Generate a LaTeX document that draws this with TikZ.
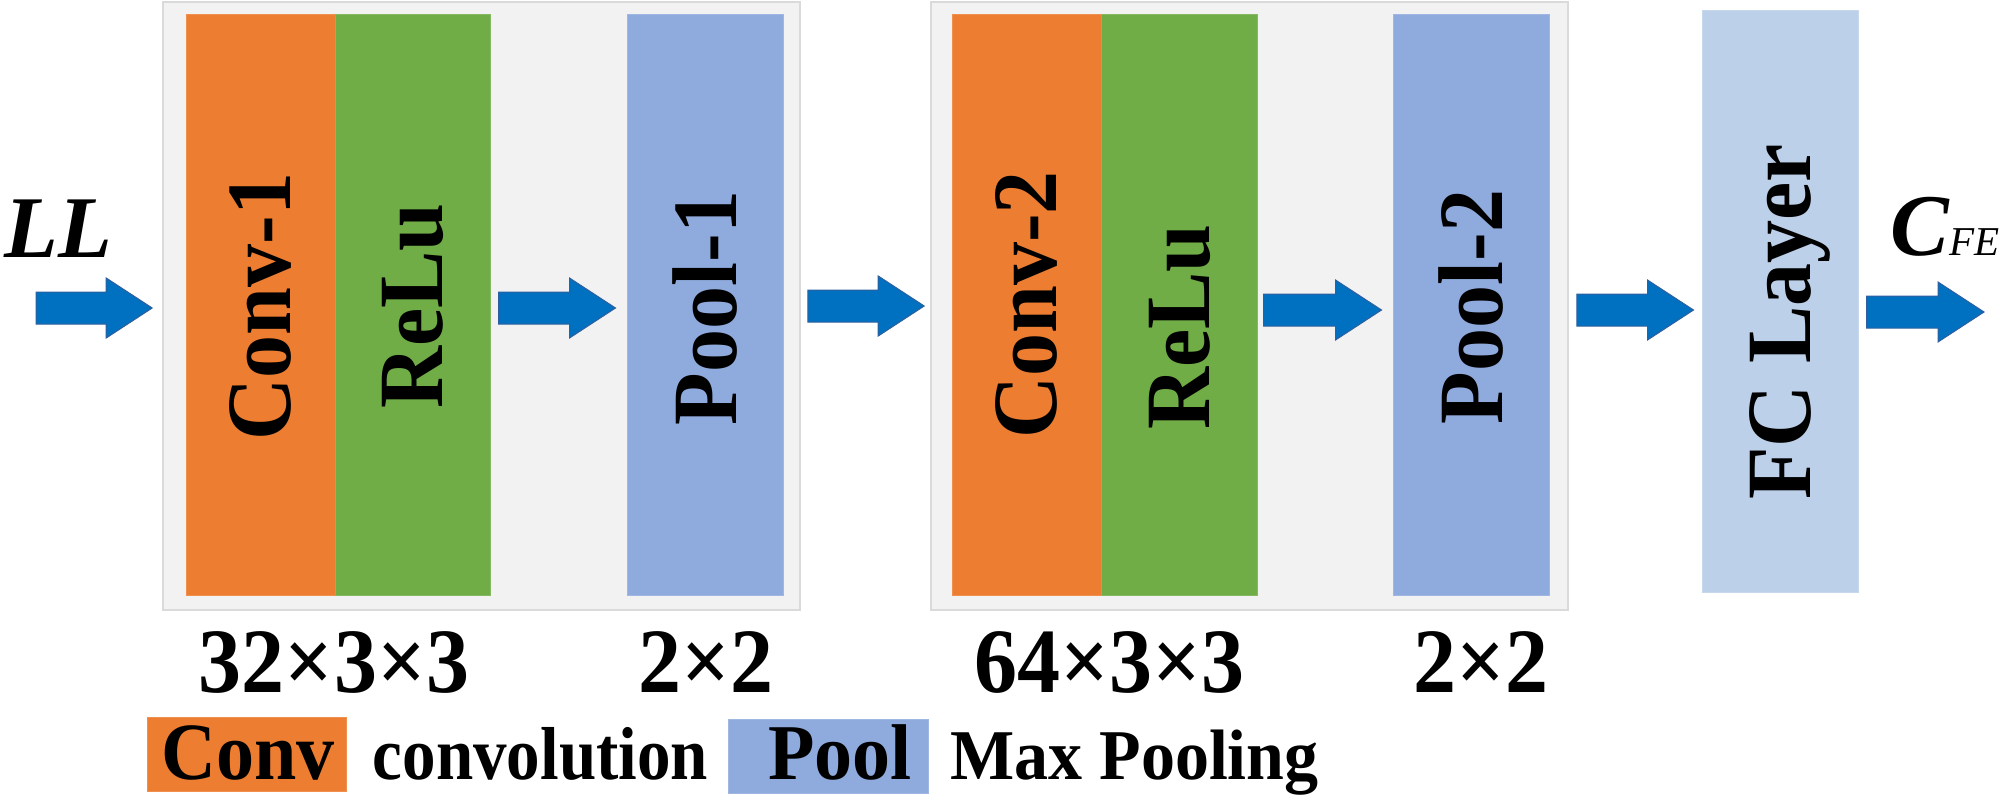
\documentclass[tikz,border=0pt]{standalone}
\usepackage{fontspec}
\usepackage{graphicx}
\setmainfont{Liberation Serif}
\usetikzlibrary{calc,fit}
\definecolor{convor}{HTML}{ED7D31}
\definecolor{relugr}{HTML}{70AD47}
\definecolor{poolbl}{HTML}{8FAADC}
\definecolor{fcbl}{HTML}{BDD0E9}
\definecolor{panelgr}{HTML}{F2F2F2}
\definecolor{panelbd}{HTML}{DADADA}
\definecolor{arrbl}{HTML}{0070C0}
\definecolor{arrbd}{HTML}{2F5F9E}
\newcommand\vlabfont{\fontsize{43pt}{43pt}\selectfont\bfseries}
\newcommand\barrow[2]{\path[barrowfill] let \p1=(#1), \p2=(#2) in
  (\x1,\y1+8pt) -- (\x2-23pt,\y1+8pt) -- (\x2-23pt,\y1+15pt) -- (\x2,\y1)
  -- (\x2-23pt,\y1-15pt) -- (\x2-23pt,\y1-8pt) -- (\x1,\y1-8pt) -- cycle;}
\tikzset{
  barrowfill/.style={fill=arrbl, draw=arrbd, line width=0.5pt, line join=miter},
  col/.style={inner sep=0pt, line width=0.5pt},
  panel/.style={inner sep=0pt, fill=panelgr, draw=panelbd, line width=0.8pt},
  vlab/.style={rotate=90, inner sep=0pt, text depth=0pt, font=\vlabfont},
  dimlab/.style={inner sep=0pt, anchor=base, font=\vlabfont},
  txt/.style={inner sep=0pt, anchor=base},
}
\begin{document}
\begin{tikzpicture}[x=0.5pt,y=-0.5pt]
\useasboundingbox (0,0) rectangle (2008,798);
% panels
\node[panel, fit={(163,2) (800,610)}] (panel1) {};
\node[panel, fit={(931,2) (1568,610)}] (panel2) {};
% columns
\node[col, fill=convor, draw=convor!85!white, fit={(186,14) (335,595)}] (conv1) {};
\node[col, fill=relugr, draw=relugr!85!white, fit={(335,14) (490,595)}] (relu1) {};
\node[col, fill=poolbl, draw=poolbl!85!white, fit={(627,14) (783,595)}] (pool1) {};
\node[col, fill=convor, draw=convor!85!white, fit={(952,14) (1101,595)}] (conv2) {};
\node[col, fill=relugr, draw=relugr!85!white, fit={(1101,14) (1257,595)}] (relu2) {};
\node[col, fill=poolbl, draw=poolbl!85!white, fit={(1393,14) (1549,595)}] (pool2) {};
\node[col, fill=fcbl, draw=fcbl!85!white, fit={(1702,10) (1858,592)}] (fc) {};
% rotated labels
\node[vlab] (tconv1) at (260.5,306.5) {\scalebox{1}[1.07]{Conv-1}};
\node[vlab] (trelu1) at (412.5,306) {\scalebox{1}[1.07]{ReLu}};
\node[vlab] (tpool1) at (705,308) {\scalebox{1}[1.07]{Pool-1}};
\node[vlab] (tconv2) at (1026.5,305) {\scalebox{1}[1.07]{Conv-2}};
\node[vlab] (trelu2) at (1179,327) {\scalebox{1}[1.07]{ReLu}};
\node[vlab] (tpool2) at (1471,307) {\scalebox{1}[1.07]{Pool-2}};
\node[vlab] (tfc) at (1780,322) {\scalebox{1}[1.07]{FC Layer}};
% dimension labels
\node[dimlab] (d1) at (334,692) {\scalebox{1}[1.07]{32×3×3}};
\node[dimlab] (d2) at (706,692) {\scalebox{1}[1.07]{2×2}};
\node[dimlab] (d3) at (1109,692) {\scalebox{1}[1.07]{64×3×3}};
\node[dimlab] (d4) at (1481,692) {\scalebox{1}[1.07]{2×2}};
% input / output labels
\node[txt] (LL) at (58.5,257) {\fontsize{44pt}{44pt}\selectfont\bfseries\itshape LL};
\node[txt] (CFE) at (1945,255) {\fontsize{44pt}{44pt}\selectfont\bfseries\itshape C{\fontsize{20.5pt}{20.5pt}\selectfont\mdseries FE}};
\coordinate (in) at (36,308);
\coordinate (out) at (1984,312);
% arrows
\barrow{in}{[xshift=-5pt]panel1.west}
\barrow{[xshift=4pt,yshift=-1.75pt]relu1.east}{[xshift=-5.5pt]pool1.west}
\barrow{[xshift=3.5pt]panel1.east}{[xshift=-3pt]panel2.west}
\barrow{[xshift=3pt,yshift=-2.75pt]relu2.east}{[xshift=-5.5pt]pool2.west}
\barrow{[xshift=4pt,yshift=-2pt]panel2.east}{[xshift=-4pt]fc.west}
\barrow{[xshift=4pt,yshift=-5.5pt]fc.east}{out}
% legend
\node[col, fill=convor, draw=convor!85!white, fit={(147,717) (346,791)}] (legconv) {};
\node[txt] (legconvt) at (248,779) {\fontsize{38pt}{38pt}\selectfont\bfseries\scalebox{1}[1.07]{Conv}};
\node[txt] (legconvd) at (540.5,779) {\fontsize{33.5pt}{33.5pt}\selectfont\bfseries\scalebox{1}[1.12]{convolution}};
\node[col, fill=poolbl, draw=poolbl!85!white, fit={(728,719) (928,793)}] (legpool) {};
\node[txt] (legpoolt) at (840,779) {\fontsize{38pt}{38pt}\selectfont\bfseries\scalebox{1}[1.04]{Pool}};
\node[txt] (legpoold) at (1134.5,779) {\fontsize{34pt}{34pt}\selectfont\bfseries\scalebox{1}[1.05]{Max Pooling}};
\end{tikzpicture}
\end{document}
